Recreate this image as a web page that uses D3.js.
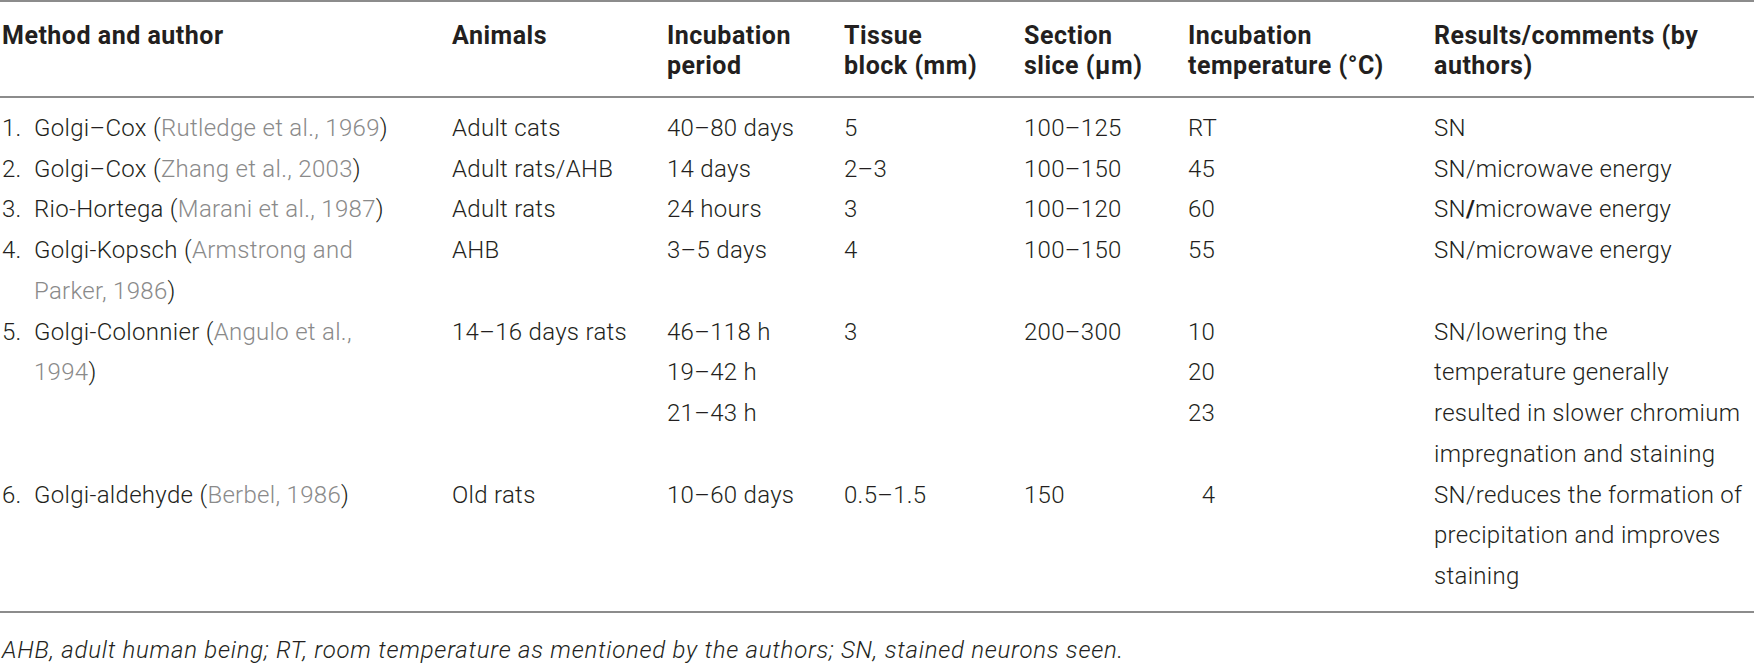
<!DOCTYPE html>
<html>
<head>
<meta charset="utf-8">
<script src="https://cdn.jsdelivr.net/npm/d3@7"></script>
<style>
  body { margin: 0; background: #fff; }
  svg { display: block; }
  text { font-family: Roboto, "Liberation Sans", sans-serif; }
</style>
</head>
<body>
<svg id="table" width="1754" height="663"></svg>
<script>
// column headings, two lines max
const headers = [
    ["Method and author"],
    ["Animals"],
    ["Incubation", "period"],
    ["Tissue", "block (mm)"],
    ["Section", "slice (\u03bcm)"],
    ["Incubation", "temperature (\u00b0C)"],
    ["Results/comments (by", "authors)"]
];

// one entry per table row
const methods = ["Golgi\u2013Cox", "Golgi\u2013Cox", "Rio-Hortega", "Golgi-Kopsch", "Golgi-Colonnier", "Golgi-aldehyde"];
const citations = [
    ["Rutledge et al., 1969"],
    ["Zhang et al., 2003"],
    ["Marani et al., 1987"],
    ["Armstrong and", "Parker, 1986"],
    ["Angulo et al.,", "1994"],
    ["Berbel, 1986"]
];
const animals = ["Adult cats", "Adult rats/AHB", "Adult rats", "AHB", "14\u201316 days rats", "Old rats"];
const periods = [["40\u201380 days"], ["14 days"], ["24 hours"], ["3\u20135 days"], ["46\u2013118 h", "19\u201342 h", "21\u201343 h"], ["10\u201360 days"]];
const tissueBlocks = ["5", "2\u20133", "3", "4", "3", "0.5\u20131.5"];
const sections = ["100\u2013125", "100\u2013150", "100\u2013120", "100\u2013150", "200\u2013300", "150"];
const temperatures = [["RT"], ["45"], ["60"], ["55"], ["10", "20", "23"], ["\u20074"]];
const results = [
    ["SN"],
    ["SN/microwave energy"],
    ["SN/microwave energy"],
    ["SN/microwave energy"],
    ["SN/lowering the", "temperature generally", "resulted in slower chromium", "impregnation and staining"],
    ["SN/reduces the formation of", "precipitation and improves", "staining"]
];
const footnote = "AHB, adult human being; RT, room temperature as mentioned by the authors; SN, stained neurons seen.";

const width = 1754;
const svg = d3.select("#table");

const colX = d3.scaleOrdinal()
    .domain(["method", "animals", "period", "tissue", "section", "temp", "results"])
    .range([2, 452, 667, 844, 1024, 1188, 1434]);
const colKeys = colX.domain();

// how many text lines each row takes
const rowLines = methods.map((m, i) => Math.max(citations[i].length, periods[i].length, temperatures[i].length, results[i].length));
const rowStart = [];
rowLines.reduce((acc, n, i) => { rowStart[i] = acc; return acc + n; }, 0);
const totalLines = d3.sum(rowLines);

// baseline of each body line
const y = d3.scaleLinear().domain([0, totalLines - 1]).range([136, 584]);
const yHead = d3.scaleLinear().domain([0, 1]).range([44, 74]);

const ink = "#231f20", grey = "#8a8a8a", rule = "#8c8c8c";

// rules
[1, 97, 612].forEach(yy => {
    svg.append("line")
        .attr("x1", 0).attr("x2", width)
        .attr("y1", yy).attr("y2", yy)
        .attr("stroke", rule).attr("stroke-width", 2);
});

// header
const head = svg.append("g").attr("class", "head");
headers.forEach((lines, c) => {
    head.selectAll(null)
        .data(lines)
        .join("text")
        .attr("x", colX(colKeys[c]))
        .attr("y", (d, i) => yHead(i))
        .attr("font-size", 25)
        .attr("font-weight", 700)
        .attr("letter-spacing", 0.5)
        .attr("fill", ink)
        .text(d => d);
});

const body = svg.append("g")
    .attr("class", "body")
    .attr("font-size", 24)
    .attr("font-weight", 300)
    .attr("letter-spacing", 0.3)
    .attr("fill", ink);

// first column: number, method name, grey citation
methods.forEach((m, i) => {
    const y0 = rowStart[i];
    body.append("text")
        .attr("x", colX("method"))
        .attr("y", y(y0))
        .text((i + 1) + ".");
    citations[i].forEach((c, k) => {
        const t = body.append("text")
            .attr("x", colX("method") + 32)
            .attr("y", y(y0 + k));
        if (k == 0) t.append("tspan").text(m + " (");
        t.append("tspan").attr("fill", grey).text(c);
        if (k == citations[i].length - 1) t.append("tspan").text(")");
    });
});

// plain single line columns
[["animals", animals], ["tissue", tissueBlocks], ["section", sections]].forEach(([key, vals]) => {
    body.selectAll(null)
        .data(vals)
        .join("text")
        .attr("x", colX(key))
        .attr("y", (d, i) => y(rowStart[i]))
        .text(d => d);
});

// multi line columns
[["period", periods], ["temp", temperatures], ["results", results]].forEach(([key, vals]) => {
    vals.forEach((lines, i) => {
        body.selectAll(null)
            .data(lines)
            .join("text")
            .attr("x", colX(key))
            .attr("y", (d, k) => y(rowStart[i] + k))
            .each(function(d, k) {
                const t = d3.select(this);
                // the 3rd row of the source has a heavier slash
                if (key == "results" && i == 2) {
                    const parts = d.split("/");
                    t.append("tspan").text(parts[0]);
                    t.append("tspan").attr("font-weight", 700).text("/");
                    t.append("tspan").text(parts[1]);
                } else {
                    t.text(d);
                }
            });
    });
});

svg.append("text")
    .attr("x", 2)
    .attr("y", 658)
    .attr("font-size", 24)
    .attr("font-style", "italic")
    .attr("font-weight", 300)
    .attr("letter-spacing", 0.75)
    .attr("fill", ink)
    .text(footnote);
</script>
</body>
</html>
